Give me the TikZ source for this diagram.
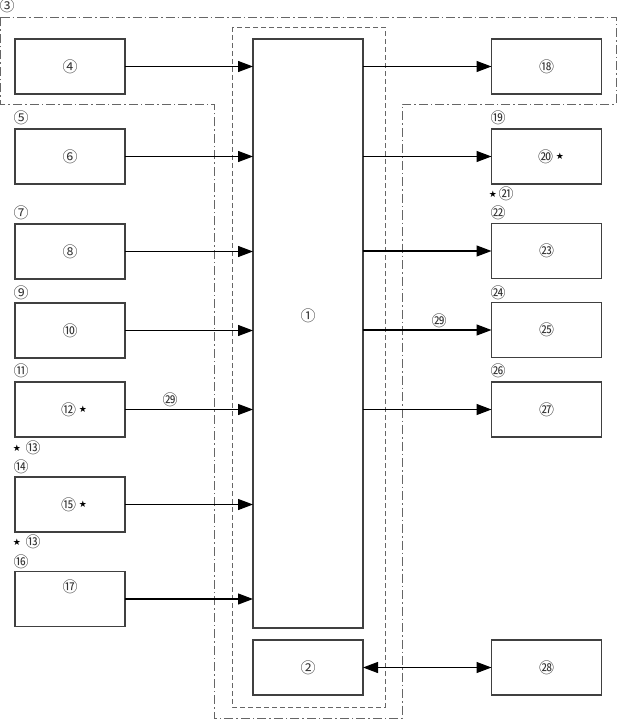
\documentclass[tikz,border=0pt]{standalone}
\usepackage{fontspec}
\newfontfamily\cjk{Noto Sans CJK SC}
\newfontfamily\djv{DejaVu Sans}
\usetikzlibrary{arrows.meta}
\tikzset{
 box/.style={draw=black!75, line width=1.3pt, minimum width=110pt, minimum height=55pt, inner sep=0pt, outer sep=0pt},
 num/.style={font=\cjk\fontsize{15}{15}\selectfont, text=black!80, inner sep=0pt},
 st/.style={font=\djv\fontsize{9}{9}\selectfont, inner sep=0pt},
 arr/.style={-{Triangle[length=15pt,width=11pt]}, line width=1.2pt},
 dblarr/.style={{Triangle[length=15pt,width=11pt]}-{Triangle[length=15pt,width=11pt]}, line width=1.2pt},
 dashdot/.style={draw=black!60, line width=0.8pt, dash pattern=on 9pt off 3pt on 1.5pt off 3pt},
 dsh/.style={draw=black!60, line width=0.8pt, dash pattern=on 5pt off 3pt},
}
\begin{document}
\begin{tikzpicture}[x=1pt,y=-1pt]
\useasboundingbox (0,0) rectangle (617,719);
% outer dash-dot region
\draw[dashdot] (0.5,17) -- (616,17) -- (616,104) -- (402,104) -- (402,718) -- (214,718) -- (214,104) -- (0.5,104) -- cycle;
% inner dashed region
\draw[dsh] (232,27) rectangle (385,707);
% central boxes
\node[box, minimum height=589pt] (b1) at (308,333.5) {};
\node[num] (t1) at (308,316) {①};
\node[box] (b2) at (308,667.5) {};
\node[num] (t2) at (308,667.5) {②};
% left boxes
\node[box] (b4) at (70,66.5) {};
\node[num] (t4) at (70,66.5) {④};
\node[box] (b6) at (70,156.5) {};
\node[num] (t6) at (70,156.5) {⑥};
\node[box] (b8) at (70,251.5) {};
\node[num] (t8) at (70,251.5) {⑧};
\node[box] (b10) at (70,330.5) {};
\node[num] (t10) at (70,330.5) {⑩};
\node[box] (b12) at (70,409.5) {};
\node[num] (t12) at (68.5,409.5) {⑫};
\node[st] (s12) at (83,409.5) {★};
\node[box] (b15) at (70,504.5) {};
\node[num] (t15) at (68.5,504.5) {⑮};
\node[st] (s15) at (83,504.5) {★};
\node[box] (b17) at (70,599) {};
\node[num] (t17) at (70,587) {⑰};
% left labels
\node[num] (l3) at (7,6) {③};
\node[num] (l5) at (21,118) {⑤};
\node[num] (l7) at (21,213) {⑦};
\node[num] (l9) at (21,293) {⑨};
\node[num] (l11) at (21,371) {⑪};
\node[st] (s13a) at (17,448) {★};
\node[num] (l13a) at (33,448) {⑬};
\node[num] (l14) at (21,467) {⑭};
\node[st] (s13b) at (17,542) {★};
\node[num] (l13b) at (33,542) {⑬};
\node[num] (l16) at (21,562) {⑯};
% right boxes
\node[box] (b18) at (546.5,66.5) {};
\node[num] (t18) at (546.5,66.5) {⑱};
\node[box] (b20) at (546.5,156.5) {};
\node[num] (t20) at (545.5,156.5) {⑳};
\node[st] (s20) at (560,156.5) {★};
\node[box] (b23) at (546.5,251) {};
\node[num] (t23) at (546.5,251) {㉓};
\node[box] (b25) at (546.5,330) {};
\node[num] (t25) at (546.5,330) {㉕};
\node[box] (b27) at (546.5,409.5) {};
\node[num] (t27) at (546.5,409.5) {㉗};
\node[box] (b28) at (546.5,667.5) {};
\node[num] (t28) at (546.5,667.5) {㉘};
% right labels
\node[num] (l19) at (498,118) {⑲};
\node[st] (s21) at (493,194) {★};
\node[num] (l21) at (506,194) {㉑};
\node[num] (l22) at (498,213) {㉒};
\node[num] (l24) at (498,293) {㉔};
\node[num] (l26) at (498,371) {㉖};
% arrows left
\foreach \b in {b4,b6,b8,b10,b12,b15,b17}
  \draw[arr] (\b.east) -- (\b.east -| b1.west);
% arrows right
\foreach \b in {b18,b20,b23,b25,b27}
  \draw[arr] (\b.west -| b1.east) -- (\b.west);
\draw[dblarr] (b2.east) -- (b28.west);
% line labels
\node[num] (w1) at (170,400) {㉙};
\node[num] (w2) at (439,321) {㉙};
\end{tikzpicture}
\end{document}
